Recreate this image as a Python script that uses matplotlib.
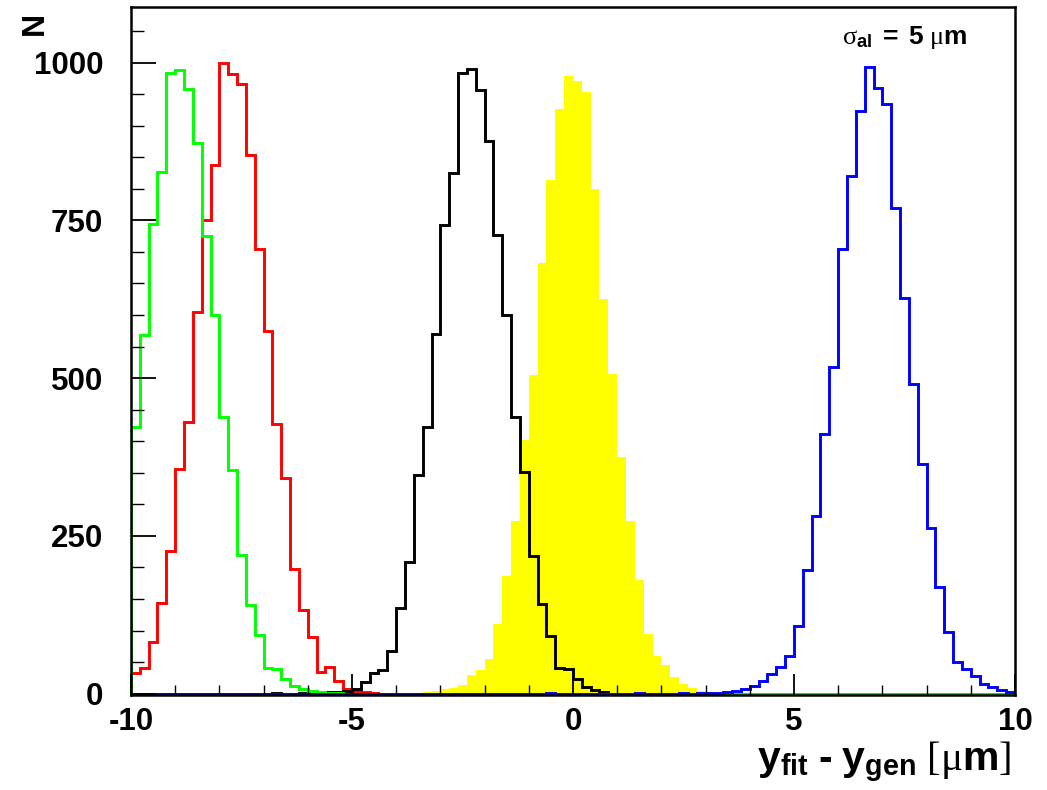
import numpy as np
import matplotlib
matplotlib.use("Agg")
import matplotlib.pyplot as plt
from matplotlib.ticker import MultipleLocator

plt.rcParams['font.family'] = ['Liberation Sans', 'DejaVu Sans']
plt.rcParams['mathtext.fontset'] = 'custom'
plt.rcParams['mathtext.rm'] = 'Liberation Serif:weight=normal'
plt.rcParams['mathtext.bf'] = 'Liberation Sans:weight=bold'
plt.rcParams['mathtext.it'] = 'Liberation Serif:italic'

# 100 bins of 0.2 um between -10 and 10
bin_edges = np.linspace(-10, 10, 101)

def fill_bins(start, counts):
    h = np.zeros(100)
    h[start:start + len(counts)] = counts
    return h

# residual distributions, one per misalignment case
yellow_counts = fill_bins(32, [1, 2, 4, 7, 9, 13, 30, 37, 55, 110, 187, 274, 402, 505,
                               683, 814, 927, 979, 971, 953, 799, 625, 507, 375, 274,
                               180, 95, 60, 46, 27, 16, 9, 4, 3, 1, 1])
red_counts = fill_bins(0, [33, 41, 82, 143, 226, 356, 431, 605, 751, 838, 999, 982, 966,
                           854, 704, 574, 428, 341, 198, 133, 90, 34, 42, 20, 8, 5, 3, 1])
black_counts = fill_bins(16, [1, 0, 0, 1, 0, 1, 3, 3, 5, 8, 18, 33, 38, 68, 135, 209, 346,
                              423, 570, 743, 825, 983, 990, 956, 876, 727, 600, 438, 351,
                              218, 142, 92, 41, 39, 23, 10, 6, 3])
green_counts = fill_bins(0, [423, 569, 745, 826, 984, 989, 958, 873, 726, 600, 438, 354,
                             220, 141, 93, 41, 39, 24, 12, 7, 4, 2, 1, 1])
blue_counts = fill_bins(47, [1, 0, 0, 0, 0, 0, 0, 0, 0, 0, 1, 0, 0, 0, 0, 1, 0, 1, 1, 1,
                             3, 4, 7, 12, 20, 32, 42, 59, 107, 196, 282, 412, 518, 705,
                             820, 923, 993, 960, 935, 770, 627, 490, 364, 262, 169, 98,
                             51, 39, 28, 16, 10, 6, 2])

fig = plt.figure(figsize=(10.47, 7.90), dpi=100)
ax = fig.add_axes([0.1251, 0.1203, 0.8443, 0.8708])

lw = 2.1
ax.stairs(yellow_counts, bin_edges, fill=True, color='#ffff00', linewidth=0)
ax.stairs(red_counts, bin_edges, color='#ff0000', linewidth=lw)
ax.stairs(black_counts, bin_edges, color='black', linewidth=lw)
ax.stairs(green_counts, bin_edges, color='#00ff00', linewidth=lw)
ax.stairs(blue_counts, bin_edges, color='#0000ff', linewidth=lw)

ax.set_xlim(-10, 10)
ax.set_ylim(-2, 1088)

for s in ax.spines.values():
    s.set_linewidth(1.8)

ax.xaxis.set_major_locator(MultipleLocator(5))
ax.xaxis.set_minor_locator(MultipleLocator(1))
ax.yaxis.set_major_locator(MultipleLocator(250))
ax.yaxis.set_minor_locator(MultipleLocator(50))
ax.tick_params(axis='both', which='both', direction='in', top=False, right=False)
ax.tick_params(axis='y', which='major', length=18, width=1.3, pad=20, labelsize=22.5)
ax.tick_params(axis='y', which='minor', length=9, width=1.0)
ax.tick_params(axis='x', which='major', length=15, width=1.3, pad=9, labelsize=22.5)
ax.tick_params(axis='x', which='minor', length=7.5, width=1.0)
ax.set_yticks([0, 250, 500, 750, 1000])
ax.set_xticks([-10, -5, 0, 5, 10])
ax.set_xticklabels(['-10', '-5', '0', '5', '10'])
for lab in ax.get_xticklabels() + ax.get_yticklabels():
    lab.set_fontweight('bold')

fig.text(0.966, 0.006,
         '$\\mathbf{y}_{\\mathbf{fit}}\\ \\mathbf{\u2010}\\ \\mathbf{y}_{\\mathbf{gen}}\\ '
         '\\mathrm{[\\mu}\\mathbf{m}\\mathrm{]}$',
         ha='right', va='bottom', fontsize=29.5)
fig.text(0.033, 0.985, 'N', rotation=90, ha='center', va='top',
         fontsize=23, fontweight='bold')
ax.text(0.946, 0.955,
        r'$\mathrm{\sigma}_{\mathbf{al}}\ \mathbf{=\ 5}\ \mathrm{\mu}\mathbf{m}$',
        transform=ax.transAxes, ha='right', va='center', fontsize=19)

fig.savefig('out.png', dpi=100)
